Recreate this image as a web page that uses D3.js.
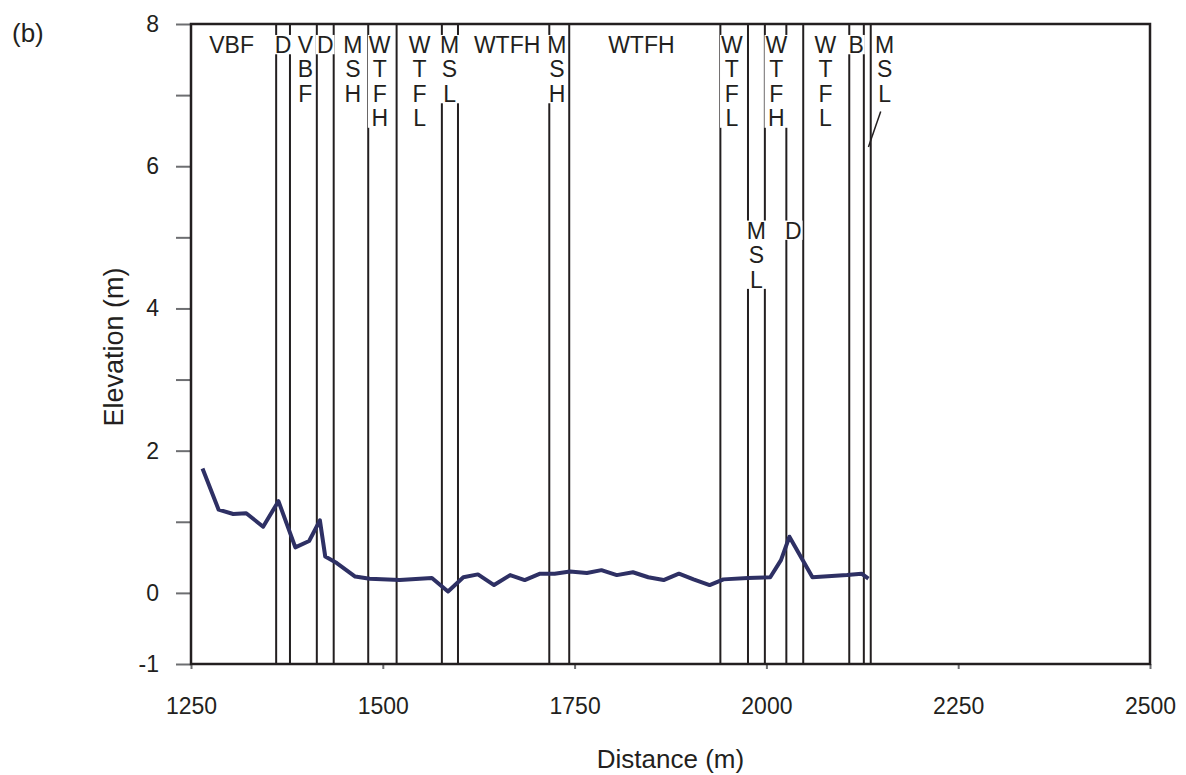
<!DOCTYPE html>
<html>
<head>
<meta charset="utf-8">
<script src="https://cdn.jsdelivr.net/npm/d3@7"></script>
<style>
  body { margin: 0; background: #fff; }
  text { font-family: "Liberation Sans", Arial, sans-serif; fill: #231f20; }
</style>
</head>
<body>
<script>
var W = 1186, H = 775,
  marginLeft = 191,
  marginTop = 24,
  w = 959,
  h = 640;

// profile (distance m, elevation m)
var distance = [1265, 1286, 1305, 1322, 1344, 1364, 1386, 1404, 1418, 1425, 1440, 1464, 1483, 1522, 1564, 1585,
  1605, 1624, 1645, 1666, 1685, 1705, 1724, 1744, 1766, 1785, 1805, 1826, 1846, 1866, 1886, 1905, 1926,
  1944, 1976, 2005, 2019, 2030, 2060, 2105, 2124, 2133];
var elevation = [1.75, 1.17, 1.11, 1.12, 0.93, 1.29, 0.64, 0.73, 1.02, 0.51, 0.42, 0.23, 0.20, 0.18, 0.21, 0.02,
  0.22, 0.26, 0.11, 0.25, 0.18, 0.27, 0.27, 0.30, 0.28, 0.32, 0.25, 0.29, 0.22, 0.18, 0.27, 0.19, 0.11,
  0.19, 0.21, 0.22, 0.46, 0.79, 0.22, 0.25, 0.27, 0.20];

// unit boundaries (m)
var boundaries = [1361, 1379, 1414, 1436, 1481, 1518, 1577, 1598, 1717, 1743,
  1940, 1976, 1998, 2026, 2048, 2108, 2127, 2136];

// unit labels
var labelText = ["VBF", "D", "VBF", "D", "MSH", "WTFH", "WTFL", "MSL", "WTFH", "MSH",
  "WTFH", "WTFL", "MSL", "WTFH", "D", "WTFL", "B", "MSL"];
var labelX = [1303, 1370, 1399, 1425, 1461, 1496, 1548, 1587, 1662, 1727,
  1837, 1955, 1987, 2013, 2035, 2077, 2117, 2154];
var labelY = [7.71, 7.71, 7.71, 7.71, 7.71, 7.71, 7.71, 7.71, 7.71, 7.71,
  7.71, 7.71, 5.10, 7.71, 5.10, 7.71, 7.71, 7.71];
var labelStacked = [false, false, true, false, true, true, true, true, false, true,
  false, true, true, true, false, true, false, true];

// leader for the last MSL label
var leaderX = [2149, 2133];
var leaderY = [6.77, 6.27];

var xTicks = [1250, 1500, 1750, 2000, 2250, 2500];
var yTicks = [-1, 0, 1, 2, 3, 4, 5, 6, 7, 8];
var yLabels = [-1, 0, 2, 4, 6, 8];

var svg = d3.select("body").append("svg")
  .attr("width", W)
  .attr("height", H);

svg.append("rect").attr("width", W).attr("height", H).attr("fill", "#fff");

var xScale = d3.scaleLinear().domain([1250, 2500]).range([0, w]);
var yScale = d3.scaleLinear().domain([-1, 8]).range([h, 0]);

var g = svg.append("g").attr("transform", `translate(${marginLeft}, ${marginTop})`);

// boundary lines
g.selectAll(".bound")
  .data(boundaries)
  .enter()
  .append("line")
  .attr("class", "bound")
  .attr("x1", d => xScale(d))
  .attr("x2", d => xScale(d))
  .attr("y1", 0)
  .attr("y2", h)
  .attr("stroke", "#231f20")
  .attr("stroke-width", 2);

// labels with white boxes
var fs = 23, lineH = 24.5;
labelText.forEach((t, i) => {
  var cx = xScale(labelX[i]), cy = yScale(labelY[i]);
  var lab = g.append("g");
  var box = lab.append("rect").attr("fill", "#fff");
  var lines = labelStacked[i] ? t.split("") : [t];
  var txt = lab.append("text")
    .attr("text-anchor", "middle")
    .style("font-size", fs + "px");
  lines.forEach((s, k) => {
    txt.append("tspan")
      .attr("x", cx)
      .attr("y", cy + k * lineH + fs * 0.36)
      .text(s);
  });
  var bb = txt.node().getBBox();
  box.attr("x", bb.x - 1)
    .attr("y", cy - fs * 0.42)
    .attr("width", bb.width + 2)
    .attr("height", (lines.length - 1) * lineH + fs * 0.84);
});

g.append("line")
  .attr("x1", xScale(leaderX[0]))
  .attr("y1", yScale(leaderY[0]))
  .attr("x2", xScale(leaderX[1]))
  .attr("y2", yScale(leaderY[1]))
  .attr("stroke", "#231f20")
  .attr("stroke-width", 1.5);

// profile line
var line = d3.line()
  .x((d, i) => xScale(distance[i]))
  .y(d => yScale(d));

g.append("path")
  .datum(elevation)
  .attr("d", line)
  .attr("fill", "none")
  .attr("stroke", "#2e3064")
  .attr("stroke-width", 4)
  .attr("stroke-linejoin", "round");

// axes
var xAxis = d3.axisBottom(xScale).tickValues(xTicks).tickFormat(d3.format("d"))
  .tickSize(5).tickPadding(29).tickSizeOuter(0);
var gx = g.append("g")
  .attr("transform", `translate(0, ${h})`)
  .call(xAxis);

var yAxis = d3.axisLeft(yScale).tickValues(yTicks)
  .tickFormat(d => yLabels.indexOf(d) >= 0 ? d : "")
  .tickSize(15).tickPadding(17).tickSizeOuter(0);
var gy = g.append("g").call(yAxis);

[gx, gy].forEach(a => {
  a.select(".domain").remove();
  a.selectAll(".tick line").attr("stroke", "#6d6e71").attr("stroke-width", 2);
  a.selectAll(".tick text")
    .style("font-family", '"Liberation Sans", Arial, sans-serif')
    .style("font-size", "23px")
    .attr("fill", "#231f20");
});

// frame
g.append("rect")
  .attr("width", w)
  .attr("height", h)
  .attr("fill", "none")
  .attr("stroke", "#231f20")
  .attr("stroke-width", 2.5);

svg.append("text")
  .attr("x", marginLeft + w / 2)
  .attr("y", 768)
  .attr("text-anchor", "middle")
  .style("font-size", "26px")
  .text("Distance (m)");

svg.append("text")
  .attr("transform", `translate(123, ${marginTop + 323}) rotate(-90)`)
  .attr("text-anchor", "middle")
  .style("font-size", "27px")
  .text("Elevation (m)");

svg.append("text")
  .attr("x", 12)
  .attr("y", 42)
  .style("font-size", "26px")
  .text("(b)");
</script>
</body>
</html>
